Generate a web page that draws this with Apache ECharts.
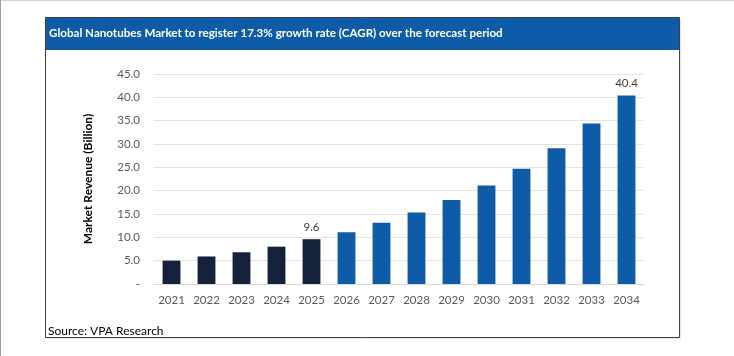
<!DOCTYPE html>
<html>
<head>
<meta charset="utf-8">
<script src="https://cdn.jsdelivr.net/npm/echarts@6/dist/echarts.min.js"></script>
<style>
html,body{margin:0;padding:0;background:#fff;}
#c{width:734px;height:356px;}
</style>
</head>
<body>
<div id="c"></div>
<script>
const titleText = 'Global Nanotubes Market to register 17.3% growth rate (CAGR) over the forecast period';
const sourceText = 'Source: VPA Research';
const yAxisTitle = 'Market Revenue (Billion)';
const years = ['2021','2022','2023','2024','2025','2026','2027','2028','2029','2030','2031','2032','2033','2034'];
const revenue = [5.0, 5.9, 6.8, 8.0, 9.6, 11.1, 13.1, 15.3, 18.0, 21.1, 24.7, 29.1, 34.4, 40.4];
const historicalYears = ['2021','2022','2023','2024','2025'];
const labeledYears = ['2025','2034'];

const histColor = '#14233b';
const foreColor = '#0e5ca8';
const font = 'Lato, "Open Sans", sans-serif';

const chart = echarts.init(document.getElementById('c'), null, {renderer:'canvas'});
const data = revenue.map((v, i) => ({
  value: v,
  itemStyle: { color: historicalYears.includes(years[i]) ? histColor : foreColor },
  label: { show: labeledYears.includes(years[i]) }
}));

chart.setOption({
  backgroundColor: '#fff',
  animation: false,
  graphic: [
    { type: 'line', shape: {x1: 0, y1: 0.5, x2: 734, y2: 0.5}, style: {stroke: '#d0d0d0', lineWidth: 1} },
    { type: 'line', shape: {x1: 0.5, y1: 0, x2: 0.5, y2: 356}, style: {stroke: '#a0a0a0', lineWidth: 1} },
    { type: 'rect', shape: {x: 47, y: 19, width: 634, height: 320}, style: {fill: '#e8e8e8'}, z: -2 },
    { type: 'rect', shape: {x: 45.5, y: 17.5, width: 634, height: 320}, style: {fill: '#fff', stroke: '#404040', lineWidth: 1}, z: -1 },
    { type: 'rect', shape: {x: 46, y: 18, width: 633, height: 32}, style: {fill: '#0e5ca8'}, z: 0 },
    { type: 'text', left: 49, top: 27, style: {text: titleText, fill: '#fff', font: 'bold 11.6px ' + font}, z: 1 },
    { type: 'text', left: 48, top: 325, style: {text: sourceText, fill: '#000', font: '12px ' + font}, z: 1 }
  ],
  grid: { left: 154, right: 90, top: 74, bottom: 72 },
  xAxis: {
    type: 'category',
    data: years,
    axisLine: { lineStyle: { color: '#d9d9d9' } },
    axisTick: { show: false },
    axisLabel: { color: '#595959', fontSize: 11.5, fontFamily: font, margin: 10 }
  },
  yAxis: {
    type: 'value',
    min: 0, max: 45, interval: 5,
    name: yAxisTitle,
    nameLocation: 'middle',
    nameGap: 60,
    nameTextStyle: { color: '#000', fontWeight: 'bold', fontSize: 12, fontFamily: font },
    axisLine: { show: false },
    axisTick: { show: false },
    splitLine: { lineStyle: { color: '#e3e3e3' } },
    axisLabel: {
      color: '#595959', fontSize: 11.5, fontFamily: font, margin: 14,
      formatter: v => v === 0 ? '-' : v.toFixed(1)
    }
  },
  series: [{
    type: 'bar',
    data: data,
    barWidth: '51%',
    label: { position: 'top', color: '#404040', fontSize: 11.5, fontFamily: font, distance: 6, formatter: p => p.value.toFixed(1) }
  }]
});
</script>
</body>
</html>
